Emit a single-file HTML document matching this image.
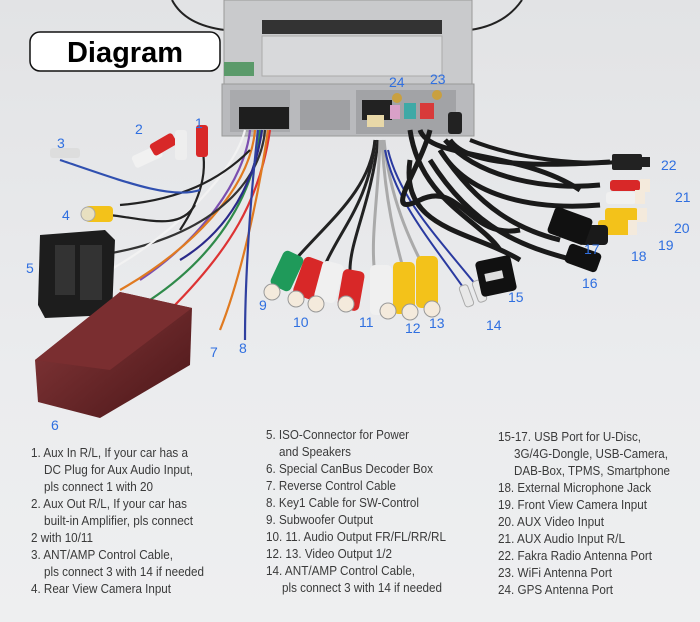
<!DOCTYPE html>
<html><head><meta charset="utf-8"><style>
html,body{margin:0;padding:0;width:700px;height:622px;overflow:hidden;background:#e9eaec}
svg{display:block}
.t{font-family:"Liberation Sans",Arial,sans-serif;font-size:12.5px;fill:#3a3a3a}
.n{font-family:"Liberation Sans",Arial,sans-serif;font-size:14px;fill:#2f6fe0}
</style></head><body>
<svg width="700" height="622" viewBox="0 0 700 622" xmlns="http://www.w3.org/2000/svg">
<defs>
<linearGradient id="bg" x1="0" y1="0" x2="0" y2="1"><stop offset="0" stop-color="#e2e3e5"/><stop offset="0.6" stop-color="#ebecee"/><stop offset="1" stop-color="#eeeff0"/></linearGradient>
<linearGradient id="box" x1="0" y1="0" x2="1" y2="1"><stop offset="0" stop-color="#8a3a3c"/><stop offset="1" stop-color="#4a1618"/></linearGradient>
</defs>
<rect width="700" height="622" fill="url(#bg)"/>
<!-- dish behind unit -->
<path d="M172 0 Q185 25 225 30 L470 30 Q505 25 522 0" fill="none" stroke="#222" stroke-width="2"/>
<!-- head unit -->
<rect x="224" y="0" width="248" height="84" fill="#c9cacc" stroke="#999"/>
<rect x="262" y="20" width="180" height="14" fill="#333"/>
<rect x="262" y="36" width="180" height="40" fill="#d8d9db" stroke="#aaa"/>
<rect x="224" y="62" width="30" height="14" fill="#5b9a6a"/>
<rect x="222" y="84" width="252" height="52" fill="#b9babd" stroke="#999"/>
<rect x="230" y="90" width="60" height="42" fill="#a9aaad"/>
<rect x="300" y="100" width="50" height="30" fill="#9fa0a3"/>
<rect x="356" y="90" width="100" height="44" fill="#a2a3a6"/>
<rect x="239" y="107" width="50" height="22" fill="#1e1e1e"/>
<rect x="362" y="100" width="30" height="20" fill="#222"/>
<rect x="367" y="115" width="17" height="12" fill="#e8d8a8"/>
<rect x="390" y="105" width="10" height="14" fill="#d9a0c8"/>
<rect x="404" y="103" width="12" height="16" fill="#3ea9a6"/>
<rect x="420" y="103" width="14" height="16" fill="#d83a3a"/>
<circle cx="397" cy="98" r="5" fill="#c9a040"/><circle cx="437" cy="95" r="5" fill="#c9a040"/>
<rect x="448" y="112" width="14" height="22" fill="#222" rx="3"/>
<!-- Diagram badge -->
<rect x="30" y="32" width="190" height="39" rx="10" fill="#fff" stroke="#111" stroke-width="1.5"/>
<text x="125" y="62" text-anchor="middle" font-family="Liberation Sans,Arial,sans-serif" font-weight="bold" font-size="29" fill="#000">Diagram</text>
<!-- left wire bundle -->
<g fill="none" stroke-width="2.2">
<path d="M250 130 C245 180 200 240 140 280" stroke="#7b4fb0"/>
<path d="M255 130 C250 190 190 250 120 290" stroke="#e07a20"/>
<path d="M260 130 C255 200 210 260 150 300" stroke="#2f8a4a"/>
<path d="M265 130 C260 190 200 240 100 255" stroke="#333"/>
<path d="M270 130 C260 200 230 250 170 310" stroke="#d33"/>
<path d="M245 130 C235 170 180 230 110 270" stroke="#f2f2f2"/>
<path d="M262 130 C255 180 230 230 180 260" stroke="#2a2a8a"/>
<path d="M268 130 C258 200 240 280 220 330" stroke="#e07a20"/>
<path d="M258 130 C250 200 245 280 245 340" stroke="#3040a0"/>
<path d="M250 150 C220 180 180 200 120 205" stroke="#222"/>
<path d="M200 140 C210 170 200 200 180 230" stroke="#222"/>
<path d="M60 160 C120 180 170 200 200 190" stroke="#3050b0"/>
<path d="M110 215 C150 220 180 230 195 205" stroke="#222"/>
</g>
<!-- ISO connector -->
<path d="M40 235 L105 230 L115 240 L112 315 L45 318 L38 305 Z" fill="#1d1d1d"/>
<rect x="55" y="245" width="20" height="50" fill="#333"/><rect x="80" y="245" width="22" height="55" fill="#333"/>
<!-- decoder box -->
<path d="M35 360 L120 292 L192 308 L190 365 L100 418 L38 402 Z" fill="url(#box)"/>
<path d="M35 360 L120 292 L192 308 L110 370 Z" fill="#7a2e30"/>
<!-- RCA top-left -->
<g>
<rect x="132" y="150" width="30" height="13" rx="3" fill="#f1f1f1" transform="rotate(-25 147 156)"/>
<rect x="150" y="138" width="26" height="13" rx="3" fill="#d82828" transform="rotate(-30 163 144)"/>
<rect x="175" y="130" width="12" height="30" rx="3" fill="#eee"/>
<rect x="196" y="125" width="12" height="32" rx="3" fill="#d82828"/>
<rect x="50" y="148" width="30" height="10" rx="3" fill="#ddd"/>
<rect x="85" y="206" width="28" height="16" rx="4" fill="#f3c21a"/>
<circle cx="88" cy="214" r="7" fill="#e8e0c0" stroke="#aaa"/>
</g>
<!-- lower RCA fan wires -->
<g fill="none" stroke-width="3">
<path d="M375 140 C370 190 330 220 295 260" stroke="#222"/>
<path d="M375 140 C370 200 340 230 325 265" stroke="#222"/>
<path d="M378 140 C372 200 350 240 350 270" stroke="#222"/>
<path d="M380 140 C378 200 370 240 375 275" stroke="#aaa"/>
<path d="M382 140 C385 200 395 240 405 275" stroke="#aaa"/>
<path d="M384 140 C390 200 410 240 425 270" stroke="#aaa"/>
<path d="M385 150 C395 200 430 240 465 290" stroke="#2a3aa0" stroke-width="2"/>
<path d="M388 150 C400 200 440 240 480 290" stroke="#2a3aa0" stroke-width="2"/>
</g>
<g>
<rect x="276" y="252" width="22" height="38" rx="5" fill="#1f9a5a" transform="rotate(25 287 271)"/>
<rect x="298" y="258" width="22" height="40" rx="5" fill="#d82828" transform="rotate(20 309 278)"/>
<rect x="318" y="262" width="22" height="40" rx="5" fill="#f0f0f0" transform="rotate(15 329 282)"/>
<rect x="340" y="270" width="22" height="40" rx="5" fill="#d82828" transform="rotate(10 351 290)"/>
<rect x="370" y="265" width="22" height="50" rx="5" fill="#f0f0f0"/>
<rect x="393" y="262" width="22" height="52" rx="5" fill="#f3c21a"/>
<rect x="416" y="256" width="22" height="52" rx="5" fill="#f3c21a"/>
<circle cx="272" cy="292" r="8" fill="#f4eadc" stroke="#999"/>
<circle cx="296" cy="299" r="8" fill="#f4eadc" stroke="#999"/>
<circle cx="316" cy="304" r="8" fill="#f4eadc" stroke="#999"/>
<circle cx="346" cy="304" r="8" fill="#f4eadc" stroke="#999"/>
<circle cx="388" cy="311" r="8" fill="#f4eadc" stroke="#999"/>
<circle cx="410" cy="312" r="8" fill="#f4eadc" stroke="#999"/>
<circle cx="432" cy="309" r="8" fill="#f4eadc" stroke="#999"/>
<rect x="462" y="285" width="9" height="22" rx="3" fill="#e8e8e8" stroke="#aaa" transform="rotate(-20 466 296)"/>
<rect x="475" y="280" width="9" height="22" rx="3" fill="#e8e8e8" stroke="#aaa" transform="rotate(-20 480 291)"/>
</g>
<!-- right black cables -->
<g fill="none" stroke="#1a1a1a" stroke-width="5">
<path d="M410 130 C420 200 480 220 500 250"/>
<path d="M420 130 C430 160 520 150 580 190"/>
<path d="M430 130 C420 170 380 220 420 200 C460 180 470 240 520 230"/>
<path d="M450 140 C470 170 560 165 610 162"/>
<path d="M445 140 C480 180 550 190 600 185"/>
<path d="M440 150 C470 200 540 210 600 205"/>
<path d="M440 150 C480 210 520 230 560 240"/>
<path d="M410 160 C400 230 470 230 520 260"/>
<path d="M430 160 C480 240 540 250 580 262"/>
</g>
<path d="M470 140 C520 160 580 165 620 162" stroke="#1a1a1a" stroke-width="4" fill="none"/>
<rect x="612" y="154" width="30" height="16" rx="2" fill="#222"/><rect x="640" y="157" width="10" height="10" fill="#222"/>
<rect x="610" y="180" width="30" height="11" rx="3" fill="#d82828"/><rect x="640" y="179" width="10" height="13" fill="#f4eadc"/>
<rect x="606" y="192" width="30" height="12" rx="3" fill="#f0f0f0"/><rect x="635" y="190" width="10" height="14" fill="#f4eadc"/>
<rect x="605" y="208" width="33" height="14" rx="3" fill="#f3c21a"/><rect x="637" y="208" width="10" height="14" fill="#f4eadc"/>
<rect x="598" y="220" width="33" height="15" rx="3" fill="#f3c21a"/><rect x="628" y="220" width="9" height="15" fill="#f4eadc"/>
<rect x="580" y="225" width="28" height="20" rx="4" fill="#1a1a1a"/>
<rect x="550" y="212" width="40" height="28" rx="4" fill="#111" transform="rotate(20 570 226)"/>
<rect x="566" y="248" width="34" height="20" rx="4" fill="#111" transform="rotate(20 583 258)"/>
<rect x="478" y="258" width="36" height="36" rx="4" fill="#111" transform="rotate(-12 496 276)"/>
<rect x="485" y="272" width="18" height="8" fill="#ddd" transform="rotate(-12 494 276)"/>
<!-- labels -->
<g class="n">
<text x="195" y="128">1</text><text x="135" y="134">2</text><text x="57" y="148">3</text><text x="62" y="220">4</text>
<text x="26" y="273">5</text><text x="51" y="430">6</text><text x="210" y="357">7</text><text x="239" y="353">8</text>
<text x="259" y="310">9</text><text x="293" y="327">10</text><text x="359" y="327">11</text><text x="405" y="333">12</text>
<text x="429" y="328">13</text><text x="486" y="330">14</text><text x="508" y="302">15</text><text x="582" y="288">16</text>
<text x="584" y="254">17</text><text x="631" y="261">18</text><text x="658" y="250">19</text><text x="674" y="233">20</text>
<text x="675" y="202">21</text><text x="661" y="170">22</text><text x="430" y="84">23</text><text x="389" y="87">24</text>
</g>
<!-- text columns -->
<g class="t">
<text x="31" y="457" textLength="157" lengthAdjust="spacingAndGlyphs">1. Aux In R/L, If your car has a</text>
<text x="44" y="474" textLength="149" lengthAdjust="spacingAndGlyphs">DC Plug for Aux Audio Input,</text>
<text x="44" y="491" textLength="109" lengthAdjust="spacingAndGlyphs">pls connect 1 with 20</text>
<text x="31" y="508" textLength="156" lengthAdjust="spacingAndGlyphs">2. Aux Out R/L, If your car has</text>
<text x="44" y="525" textLength="149" lengthAdjust="spacingAndGlyphs">built-in Amplifier, pls connect</text>
<text x="31" y="542" textLength="62" lengthAdjust="spacingAndGlyphs">2 with 10/11</text>
<text x="31" y="559" textLength="142" lengthAdjust="spacingAndGlyphs">3. ANT/AMP Control Cable,</text>
<text x="44" y="576" textLength="160" lengthAdjust="spacingAndGlyphs">pls connect 3 with 14 if needed</text>
<text x="31" y="593" textLength="140" lengthAdjust="spacingAndGlyphs">4. Rear View Camera Input</text>

<text x="266" y="439" textLength="143" lengthAdjust="spacingAndGlyphs">5. ISO-Connector for Power</text>
<text x="279" y="456" textLength="72" lengthAdjust="spacingAndGlyphs">and Speakers</text>
<text x="266" y="473" textLength="167" lengthAdjust="spacingAndGlyphs">6. Special CanBus Decoder Box</text>
<text x="266" y="490" textLength="130" lengthAdjust="spacingAndGlyphs">7. Reverse Control Cable</text>
<text x="266" y="507" textLength="153" lengthAdjust="spacingAndGlyphs">8. Key1 Cable for SW-Control</text>
<text x="266" y="524" textLength="107" lengthAdjust="spacingAndGlyphs">9. Subwoofer Output</text>
<text x="266" y="541" textLength="180" lengthAdjust="spacingAndGlyphs">10. 11. Audio Output FR/FL/RR/RL</text>
<text x="266" y="558" textLength="126" lengthAdjust="spacingAndGlyphs">12. 13. Video Output 1/2</text>
<text x="266" y="575" textLength="149" lengthAdjust="spacingAndGlyphs">14. ANT/AMP Control Cable,</text>
<text x="282" y="592" textLength="160" lengthAdjust="spacingAndGlyphs">pls connect 3 with 14 if needed</text>

<text x="498" y="441" textLength="143" lengthAdjust="spacingAndGlyphs">15-17. USB Port for U-Disc,</text>
<text x="514" y="458" textLength="154" lengthAdjust="spacingAndGlyphs">3G/4G-Dongle, USB-Camera,</text>
<text x="514" y="475" textLength="156" lengthAdjust="spacingAndGlyphs">DAB-Box, TPMS, Smartphone</text>
<text x="498" y="492" textLength="153" lengthAdjust="spacingAndGlyphs">18. External Microphone Jack</text>
<text x="498" y="509" textLength="149" lengthAdjust="spacingAndGlyphs">19. Front View Camera Input</text>
<text x="498" y="526" textLength="106" lengthAdjust="spacingAndGlyphs">20. AUX Video Input</text>
<text x="498" y="543" textLength="127" lengthAdjust="spacingAndGlyphs">21. AUX Audio Input R/L</text>
<text x="498" y="560" textLength="154" lengthAdjust="spacingAndGlyphs">22. Fakra Radio Antenna Port</text>
<text x="498" y="577" textLength="114" lengthAdjust="spacingAndGlyphs">23. WiFi Antenna Port</text>
<text x="498" y="594" textLength="115" lengthAdjust="spacingAndGlyphs">24. GPS Antenna Port</text>
</g>
</svg>
</body></html>
